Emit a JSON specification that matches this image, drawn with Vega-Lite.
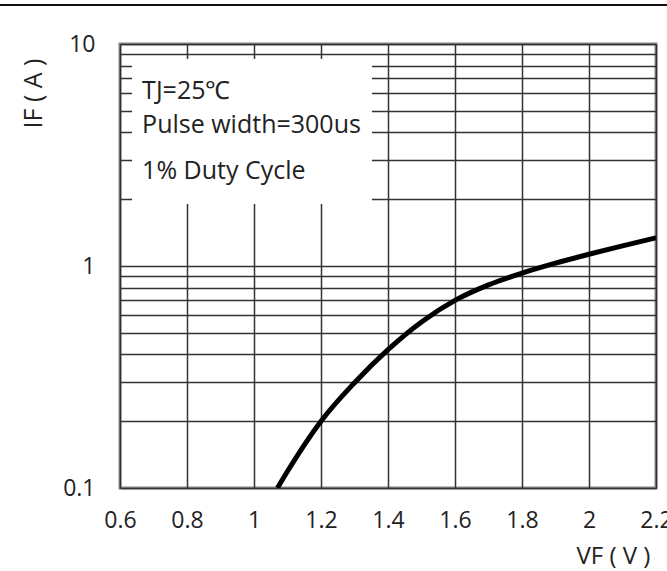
{
  "$schema": "https://vega.github.io/schema/vega-lite/v6.json",
  "width": 536,
  "height": 444,
  "autosize": {"type": "none"},
  "padding": {"left": 120, "top": 44, "right": 11, "bottom": 83},
  "background": "white",
  "config": {
    "view": {"stroke": "#888888", "strokeWidth": 3},
    "font": "Open Sans",
    "axis": {"labelFont": "Open Sans", "titleFont": "Open Sans"}
  },
  "datasets": {
    "curve": [
      {"v": 1.07, "i": 0.1},
      {"v": 1.1, "i": 0.119},
      {"v": 1.2, "i": 0.2},
      {"v": 1.3, "i": 0.298},
      {"v": 1.4, "i": 0.42},
      {"v": 1.5, "i": 0.56},
      {"v": 1.6, "i": 0.70},
      {"v": 1.7, "i": 0.822},
      {"v": 1.8, "i": 0.929},
      {"v": 1.9, "i": 1.03},
      {"v": 2.0, "i": 1.13},
      {"v": 2.1, "i": 1.233},
      {"v": 2.2, "i": 1.34}
    ],
    "box": [{"v": 0.636, "v2": 1.352, "i": 8.56, "i2": 1.9}],
    "notes": [
      {"v": 0.666, "i": 6.14, "label": "TJ=25℃"},
      {"v": 0.666, "i": 4.32, "label": "Pulse width=300us"},
      {"v": 0.666, "i": 2.68, "label": "1% Duty Cycle"}
    ],
    "topline": [{"v": 0.24, "v2": 2.235, "i": 15}]
  },
  "encoding": {
    "x": {
      "field": "v",
      "type": "quantitative",
      "scale": {"domain": [0.6, 2.2], "nice": false, "zero": false},
      "axis": {
        "values": [0.6, 0.8, 1.0, 1.2, 1.4, 1.6, 1.8, 2.0, 2.2],
        "labelExpr": "format(datum.value, '~g')",
        "grid": true,
        "gridColor": "#333333",
        "gridWidth": 1.5,
        "ticks": false,
        "domain": false,
        "labelFontSize": 23,
        "labelColor": "#222222",
        "labelPadding": 21,
        "labelFlush": false,
        "title": "VF ( V )",
        "titleFontSize": 24,
        "titleFontWeight": "normal",
        "titleColor": "#222222",
        "titleAnchor": "start",
        "titleX": 493,
        "titleY": 68,
        "titleAlign": "center",
        "titleBaseline": "middle"
      }
    },
    "y": {
      "field": "i",
      "type": "quantitative",
      "scale": {"type": "log", "domain": [0.1, 10], "nice": false},
      "axis": {
        "values": [0.1, 0.2, 0.3, 0.4, 0.5, 0.6, 0.7, 0.8, 0.9, 1, 2, 3, 4, 5, 6, 7, 8, 9, 10],
        "labelExpr": "datum.value == 0.1 ? '0.1' : datum.value == 1 ? '1' : datum.value == 10 ? '10' : ''",
        "grid": true,
        "gridColor": "#333333",
        "gridWidth": 1.5,
        "ticks": false,
        "domain": false,
        "labelFontSize": 23,
        "labelColor": "#222222",
        "labelPadding": 25,
        "labelFlush": false,
        "labelBaseline": "middle",
        "title": "IF ( A )",
        "titleFontSize": 25,
        "titleFontWeight": "normal",
        "titleColor": "#222222",
        "titleAngle": -90,
        "titleX": -87,
        "titleY": 49,
        "titleAlign": "center",
        "titleBaseline": "middle"
      }
    }
  },
  "layer": [
    {
      "data": {"name": "box"},
      "mark": {"type": "rect", "fill": "white", "stroke": null},
      "encoding": {
        "x2": {"field": "v2"},
        "y2": {"field": "i2"}
      }
    },
    {
      "data": {"name": "curve"},
      "mark": {"type": "line", "color": "black", "strokeWidth": 5, "interpolate": "monotone", "clip": true},
      "encoding": {}
    },
    {
      "data": {"name": "notes"},
      "mark": {"type": "text", "align": "left", "baseline": "middle", "fontSize": 25, "font": "Open Sans", "color": "#222222"},
      "encoding": {"text": {"field": "label"}}
    },
    {
      "data": {"name": "topline"},
      "mark": {"type": "rule", "color": "#111111", "strokeWidth": 2},
      "encoding": {"x2": {"field": "v2"}}
    }
  ]
}
